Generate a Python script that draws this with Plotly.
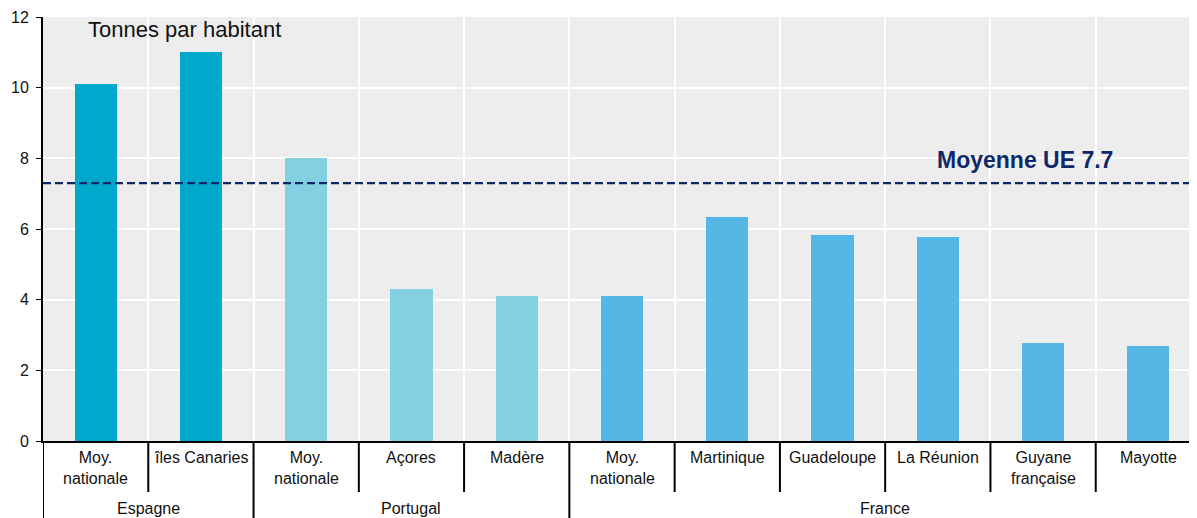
import plotly.graph_objects as go

groups = ["Espagne", "Espagne", "Portugal", "Portugal", "Portugal",
          "France", "France", "France", "France", "France", "France"]
categories = ["Moy.<br>nationale", "îles Canaries", "Moy.<br>nationale", "Açores", "Madère",
              "Moy.<br>nationale", "Martinique", "Guadeloupe", "La Réunion",
              "Guyane<br>française", "Mayotte"]
values = [10.1, 11.0, 8.0, 4.3, 4.1, 4.1, 6.35, 5.83, 5.77, 2.77, 2.69]
group_colors = {"Espagne": "#00A9CC", "Portugal": "#83D0E3", "France": "#55B7E6"}
eu_line_value = 7.3
eu_label = "Moyenne UE 7.7"
y_title = "Tonnes par habitant"
y_ticks = [0, 2, 4, 6, 8, 10, 12]

n = len(categories)
xs = list(range(n))

W, H = 1193, 510
M_L, M_R, M_T, M_B = 35, 0, 9, 77

fig = go.Figure()
fig.add_trace(go.Bar(
    x=xs, y=values, width=0.4,
    marker=dict(color=[group_colors[g] for g in groups], line=dict(width=0)),
    showlegend=False, hoverinfo="skip",
))

# EU average dashed line
fig.add_shape(type="line", xref="paper", yref="y", x0=0, x1=1,
              y0=eu_line_value, y1=eu_line_value,
              line=dict(color="#0C2A6A", width=2.2, dash="8px,4px"), layer="above")
fig.add_annotation(x=8.83, y=7.95, xref="x", yref="y", text="<b>" + eu_label + "</b>",
                   showarrow=False, font=dict(size=23, color="#0C2A6A"))

# y title annotation
fig.add_annotation(x=0.037, y=11.65, xref="paper", yref="y", text=y_title,
                   showarrow=False, xanchor="left", font=dict(size=22, color="#111"))

# category labels
for i, c in enumerate(categories):
    fig.add_annotation(x=i, y=0, xref="x", yref="paper", text=c, showarrow=False,
                       yanchor="top", yshift=-6, font=dict(size=16, color="#111"))

# separators below axis
plot_h = H - M_T - M_B
short = -51 / plot_h
long_ = -(M_B + 2) / plot_h
for i in range(n):
    b = i - 0.5
    if i == 0 or groups[i] != groups[i - 1]:
        y1 = long_
    else:
        y1 = short
    fig.add_shape(type="line", xref="x", yref="paper", x0=b, x1=b, y0=0, y1=y1,
                  line=dict(color="black", width=2))

# group labels
seen = []
for g in groups:
    if g not in seen:
        seen.append(g)
for g in seen:
    idx = [i for i, gg in enumerate(groups) if gg == g]
    center = (idx[0] + idx[-1]) / 2
    fig.add_annotation(x=center, y=0, xref="x", yref="paper", text=g, showarrow=False,
                       yanchor="top", yshift=-57, font=dict(size=16, color="#111"))

fig.update_layout(
    width=W, height=H,
    margin=dict(l=M_L, r=M_R, t=M_T, b=M_B),
    paper_bgcolor="white", plot_bgcolor="#EDEDED",
    font=dict(family="Liberation Sans, Arial, sans-serif", size=16, color="#111"),
    bargap=0,
)
fig.update_xaxes(range=[-0.5, n - 0.5], tickvals=[i + 0.5 for i in range(n - 1)],
                 showticklabels=False, ticks="", showgrid=True, gridcolor="white",
                 gridwidth=2, zeroline=False, showline=True, linecolor="black",
                 linewidth=2)
fig.update_yaxes(range=[0, 12], tickvals=y_ticks, showgrid=True, gridcolor="white",
                 gridwidth=2, zeroline=False, showline=True, linecolor="black",
                 linewidth=2, ticks="outside", ticklen=5, tickcolor="black",
                 ticklabelstandoff=4, tickfont=dict(size=16, color="#111"))

fig.write_html("out.html")
